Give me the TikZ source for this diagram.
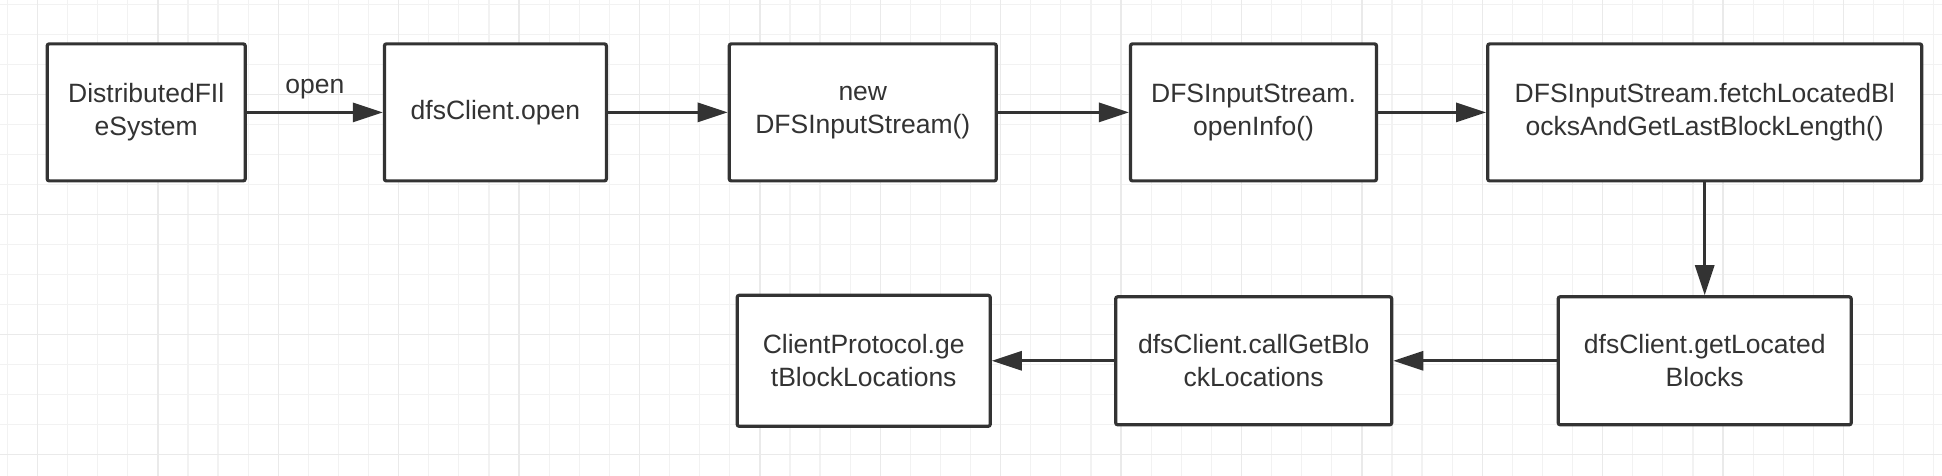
\documentclass[tikz,border=0pt]{standalone}
\usepackage{fontspec}
\setmainfont{Liberation Sans}
\usetikzlibrary{positioning, arrows.meta}
\definecolor{linegray}{HTML}{333333}
\definecolor{gridminor}{HTML}{F2F2F2}
\definecolor{gridmajor}{HTML}{EAEAEA}

\begin{document}
\begin{tikzpicture}[
    ->, >={Triangle[length=15pt, width=9.5pt]},
    block/.style={rectangle, draw=linegray, line width=1.6pt, rounded corners=1pt, fill=white,
        align=center, text=linegray, font=\fontsize{13.25}{16.65}\selectfont,
        minimum height=68.5pt, inner sep=2pt},
    elabel/.style={text=linegray, font=\fontsize{13.25}{16.65}\selectfont, inner sep=0pt},
    every edge/.append style={draw=linegray, line width=1.5pt}
]

    % Background grid
    \useasboundingbox (0,0) rectangle (971pt,238pt);
    \fill[-, white] (0,0) rectangle (971pt,238pt);
    \foreach \k in {0,...,64}
        \draw[-, gridminor, line width=0.6pt] ({3.65pt+\k*15.05pt},0) -- ++(0,238pt);
    \foreach \k in {0,...,15}
        \draw[-, gridminor, line width=0.6pt] (0,{235.85pt-\k*15pt}) -- ++(971pt,0);
    \foreach \k in {1,5,...,61}
        \draw[-, gridmajor, line width=0.7pt] ({3.65pt+\k*15.05pt},0) -- ++(0,238pt);
    \foreach \k in {3,7,11,15}
        \draw[-, gridmajor, line width=0.7pt] (0,{235.85pt-\k*15pt}) -- ++(971pt,0);

    % Nodes
    \node[block, minimum width=99pt] (dfs) at (73.1pt,181.8pt) {DistributedFIl\\eSystem};
    \node[block, minimum width=111pt] (client) [right=68pt of dfs] {dfsClient.open};
    \node[block, minimum width=133.5pt] (newStream) [right=59.85pt of client] {new\\DFSInputStream()};
    \node[block, minimum width=123pt] (openInfo) [right=65.5pt of newStream] {DFSInputStream.\\openInfo()};
    \node[block, minimum width=217pt] (fetch) [right=54pt of openInfo] {DFSInputStream.fetchLocatedBl\\ocksAndGetLastBlockLength()};
    \node[block, minimum width=146.5pt, minimum height=64pt] (getLocated) [below=56.35pt of fetch] {dfsClient.getLocated\\Blocks};
    \node[block, minimum width=138pt, minimum height=64pt] (callGet) [left=81.65pt of getLocated] {dfsClient.callGetBlo\\ckLocations};
    \node[block, minimum width=126.5pt, minimum height=65.5pt] (protocol) [left=61.15pt of callGet] {ClientProtocol.ge\\tBlockLocations};

    % Calls, top row
    \path (dfs) edge node [elabel, above=6pt] {open} (client)
          (client) edge (newStream)
          (newStream) edge (openInfo)
          (openInfo) edge (fetch);

    % Calls, down and back
    \path (fetch) edge (getLocated)
          (getLocated) edge (callGet)
          (callGet) edge (protocol);

\end{tikzpicture}
\end{document}
